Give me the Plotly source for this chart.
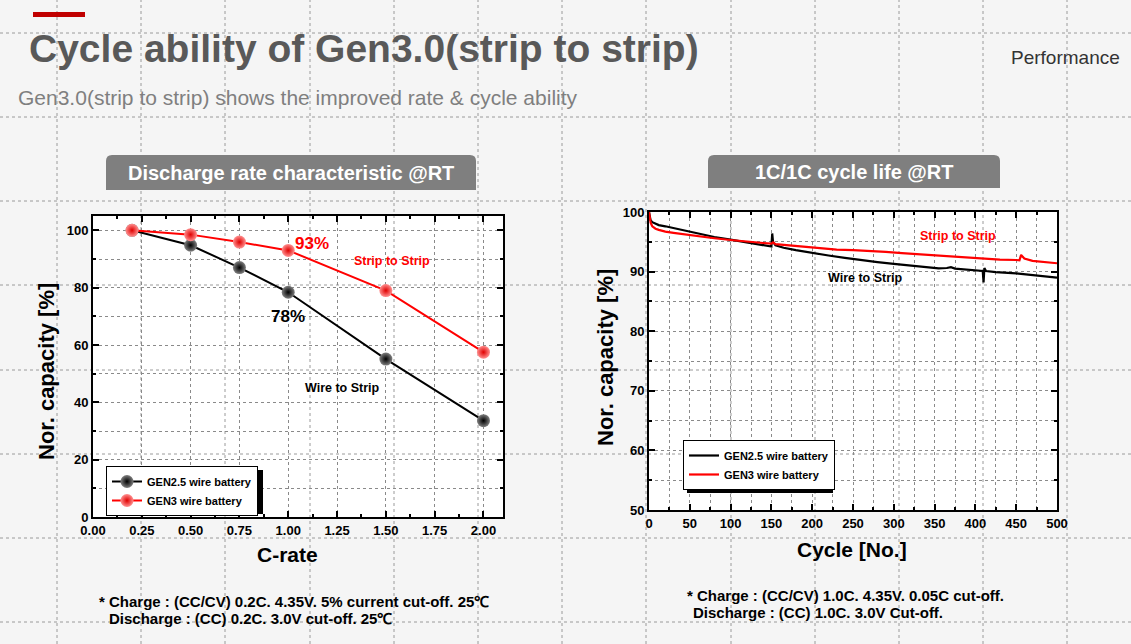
import plotly.graph_objects as go

W, H = 1131, 644

# ---------------- data ----------------
c_rate = [0.2, 0.5, 0.75, 1.0, 1.5, 2.0]
gen25_rate = [100.0, 94.8, 87.0, 78.4, 55.1, 33.6]
gen3_rate = [100.0, 98.5, 95.9, 93.0, 79.0, 57.5]

gen25_cycle = [0, 1, 2, 4, 8, 12, 20, 30, 40, 50, 65, 80, 100, 120, 140, 149, 150, 151, 152, 155,
               165, 180, 200, 220, 240, 260, 280, 300, 320, 340, 355, 365, 370, 375, 390, 400, 409,
               410, 411, 413, 425, 450, 475, 490, 500]
gen25_cap = [100.0, 99.0, 98.6, 98.3, 98.0, 97.8, 97.6, 97.3, 96.9, 96.6, 96.2, 95.8, 95.35, 94.9,
             94.5, 94.3, 94.2, 96.4, 95.0, 94.4, 94.0, 93.6, 93.1, 92.7, 92.3, 91.9, 91.6, 91.3,
             91.0, 90.8, 90.55, 90.6, 90.75, 90.5, 90.3, 90.2, 90.1, 88.2, 90.6, 90.1, 89.9, 89.7,
             89.4, 89.2, 89.0]

gen3_cycle = [0, 1, 2, 4, 8, 12, 20, 30, 40, 50, 65, 80, 100, 120, 140, 150, 152, 155, 170, 190,
              210, 230, 250, 270, 290, 310, 330, 350, 370, 390, 410, 430, 450, 454, 456, 460, 470,
              485, 500]
gen3_cap = [100.0, 98.8, 98.2, 97.6, 97.2, 97.0, 96.7, 96.5, 96.3, 96.1, 95.8, 95.6, 95.3, 95.0,
            94.8, 94.7, 94.9, 94.6, 94.4, 94.2, 93.9, 93.7, 93.6, 93.5, 93.3, 93.1, 92.9, 92.7,
            92.5, 92.4, 92.2, 92.0, 91.95, 91.9, 92.8, 92.2, 91.8, 91.6, 91.4]

series_names = ["GEN2.5 wire battery", "GEN3 wire battery"]

FONT = "Liberation Sans, Arial, sans-serif"


def px(x):
    return x / W


def py(y):
    return 1 - y / H


fig = go.Figure()

# left chart: discharge rate
fig.add_trace(go.Scatter(
    x=c_rate, y=gen25_rate, mode="lines+markers", name=series_names[0],
    line=dict(color="black", width=2),
    marker=dict(size=13, color="#808080", gradient=dict(type="radial", color="#000000"),
                line=dict(width=0)),
    xaxis="x", yaxis="y", legend="legend"))
fig.add_trace(go.Scatter(
    x=c_rate, y=gen3_rate, mode="lines+markers", name=series_names[1],
    line=dict(color="#ff0000", width=2),
    marker=dict(size=13, color="#ff9090", gradient=dict(type="radial", color="#e00000"),
                line=dict(width=0)),
    xaxis="x", yaxis="y", legend="legend"))

# right chart: cycle life
fig.add_trace(go.Scatter(
    x=gen25_cycle, y=gen25_cap, mode="lines", name=series_names[0],
    line=dict(color="black", width=2.2),
    xaxis="x2", yaxis="y2", legend="legend2"))
fig.add_trace(go.Scatter(
    x=gen3_cycle, y=gen3_cap, mode="lines", name=series_names[1],
    line=dict(color="#ff0000", width=2.2),
    xaxis="x2", yaxis="y2", legend="legend2"))

axis_common = dict(
    showline=True, linewidth=2, linecolor="black", mirror="allticks",
    ticks="inside", ticklen=6, tickwidth=1.5, tickcolor="black",
    showgrid=True, gridcolor="#8a8a8a", griddash="dot", gridwidth=1,
    zeroline=False, automargin=False,
    tickfont=dict(family=FONT, size=13, color="black", weight="bold"),
)

fig.update_layout(
    width=W, height=H, autosize=False,
    margin=dict(l=0, r=0, t=0, b=0, pad=0, autoexpand=False),
    paper_bgcolor="#f5f5f5", plot_bgcolor="white",
    font=dict(family=FONT),
    xaxis=dict(domain=[px(93), px(503)], range=[0, 2.1], tick0=0, dtick=0.25,
               tickformat=".2f", anchor="y",
               minor=dict(dtick=0.125, ticklen=3, ticks="inside", tickcolor="black",
                          showgrid=False),
               **axis_common),
    yaxis=dict(domain=[py(517), py(216)], range=[0, 105], tick0=0, dtick=20, anchor="x",
               minor=dict(dtick=10, ticklen=3, ticks="inside", tickcolor="black",
                          showgrid=True, gridcolor="#8a8a8a", griddash="dot"),
               **axis_common),
    xaxis2=dict(domain=[px(649), px(1057)], range=[0, 500], tick0=0, dtick=50, anchor="y2",
                minor=dict(dtick=25, ticklen=3, ticks="inside", tickcolor="black",
                           showgrid=True, gridcolor="#8a8a8a", griddash="dot"),
                **axis_common),
    yaxis2=dict(domain=[py(510), py(212)], range=[50, 100], tick0=50, dtick=10, anchor="x2",
                minor=dict(dtick=5, ticklen=3, ticks="inside", tickcolor="black",
                           showgrid=True, gridcolor="#8a8a8a", griddash="dot"),
                **axis_common),
    legend=dict(x=px(106), y=py(466), xanchor="left", yanchor="top",
                bgcolor="white", bordercolor="black", borderwidth=1,
                font=dict(family=FONT, size=11, color="black", weight="bold"),
                tracegroupgap=0, itemwidth=30),
    legend2=dict(x=px(683), y=py(440), xanchor="left", yanchor="top",
                 bgcolor="white", bordercolor="black", borderwidth=1,
                 font=dict(family=FONT, size=11, color="black", weight="bold"),
                 tracegroupgap=0, itemwidth=30),
    showlegend=True,
)

shapes = []
# page dotted grid
for gx in [57, 141, 225, 310, 394, 478, 562, 646, 731, 815, 899, 983, 1067]:
    shapes.append(dict(type="line", xref="paper", yref="paper", x0=px(gx), x1=px(gx), y0=0, y1=1,
                       line=dict(color="#9a9a9a", width=1, dash="dot"), layer="below"))
for gy in [33, 117, 201, 285, 370, 454, 538, 622]:
    shapes.append(dict(type="line", xref="paper", yref="paper", x0=0, x1=1, y0=py(gy), y1=py(gy),
                       line=dict(color="#9a9a9a", width=1, dash="dot"), layer="below"))
# red accent bar
shapes.append(dict(type="rect", xref="paper", yref="paper", x0=px(33), x1=px(85),
                   y0=py(17), y1=py(12), fillcolor="#c00000", line=dict(width=0)))


def header_path(x0, x1, y0, y1, r=6):
    X0, X1, Y0, Y1 = px(x0), px(x1), py(y1), py(y0)
    rx, ry = r / W, r / H
    return (f"M {X0},{Y0} L {X0},{Y1 - ry} Q {X0},{Y1} {X0 + rx},{Y1} "
            f"L {X1 - rx},{Y1} Q {X1},{Y1} {X1},{Y1 - ry} L {X1},{Y0} Z")


shapes.append(dict(type="path", xref="paper", yref="paper", path=header_path(106, 476, 155, 190),
                   fillcolor="#7f7f7f", line=dict(width=0)))
shapes.append(dict(type="path", xref="paper", yref="paper", path=header_path(708, 1000, 155, 188),
                   fillcolor="#7f7f7f", line=dict(width=0)))
# legend drop shadows
shapes.append(dict(type="rect", xref="paper", yref="paper", x0=px(110), x1=px(263),
                   y0=py(514), y1=py(470), fillcolor="black", line=dict(width=0), layer="above"))
shapes.append(dict(type="rect", xref="paper", yref="paper", x0=px(687), x1=px(833),
                   y0=py(493), y1=py(444), fillcolor="black", line=dict(width=0), layer="above"))
fig.update_layout(shapes=shapes)

ann = []


def txt(x, y, s, size, color="black", bold=False, xanchor="center", yanchor="middle",
        angle=0, xref="paper", yref="paper"):
    ann.append(dict(x=x, y=y, xref=xref, yref=yref, text=s, showarrow=False,
                    xanchor=xanchor, yanchor=yanchor, textangle=angle,
                    font=dict(family=FONT, size=size, color=color,
                              weight="bold" if bold else "normal")))


txt(px(27), py(48), "Cycle ability of Gen3.0(strip to strip)", 39, "#595959", True, xanchor="left")
txt(px(16), py(97), "Gen3.0(strip to strip) shows the improved rate &amp; cycle ability", 21,
    "#7f7f7f", xanchor="left")
txt(px(1122), py(57), "Performance", 19, "#333333", xanchor="right")
txt(px(291), py(173), "Discharge rate characteristic @RT", 20, "white", True)
txt(px(854), py(172), "1C/1C cycle life @RT", 20, "white", True)

# axis titles
txt(px(46), py(372), "Nor. capacity [%]", 22, "black", True, angle=-90)
txt(px(287), py(554), "C-rate", 21, "black", True)
txt(px(605), py(358), "Nor. capacity [%]", 22, "black", True, angle=-90)
txt(px(852), py(549), "Cycle [No.]", 21, "black", True)

# in-plot labels
txt(1.12, 95.5, "93%", 17, "#ff0000", True, xref="x", yref="y")
txt(1.0, 70.0, "78%", 17, "black", True, xref="x", yref="y")
txt(1.533, 89.2, "Strip to Strip", 12.5, "#ff0000", True, xref="x", yref="y")
txt(1.277, 45.1, "Wire to Strip", 12.5, "black", True, xref="x", yref="y")
txt(379, 95.9, "Strip to Strip", 12.5, "#ff0000", True, xref="x2", yref="y2")
txt(265, 88.9, "Wire to Strip", 12.5, "black", True, xref="x2", yref="y2")

# footnotes
txt(px(97), py(601), "* Charge : (CC/CV) 0.2C. 4.35V. 5% current cut-off. 25℃", 15, "black", True,
    xanchor="left")
txt(px(107), py(618), "Discharge : (CC) 0.2C. 3.0V cut-off. 25℃", 15, "black", True,
    xanchor="left")
txt(px(685), py(595), "* Charge : (CC/CV) 1.0C. 4.35V. 0.05C cut-off.", 15, "black", True,
    xanchor="left")
txt(px(691), py(612), "Discharge : (CC) 1.0C. 3.0V Cut-off.", 15, "black", True,
    xanchor="left")

fig.update_layout(annotations=ann)

fig.write_html("out.html", config={"displayModeBar": False},
               post_script="document.body.style.margin='0';document.body.style.overflow='hidden';")
